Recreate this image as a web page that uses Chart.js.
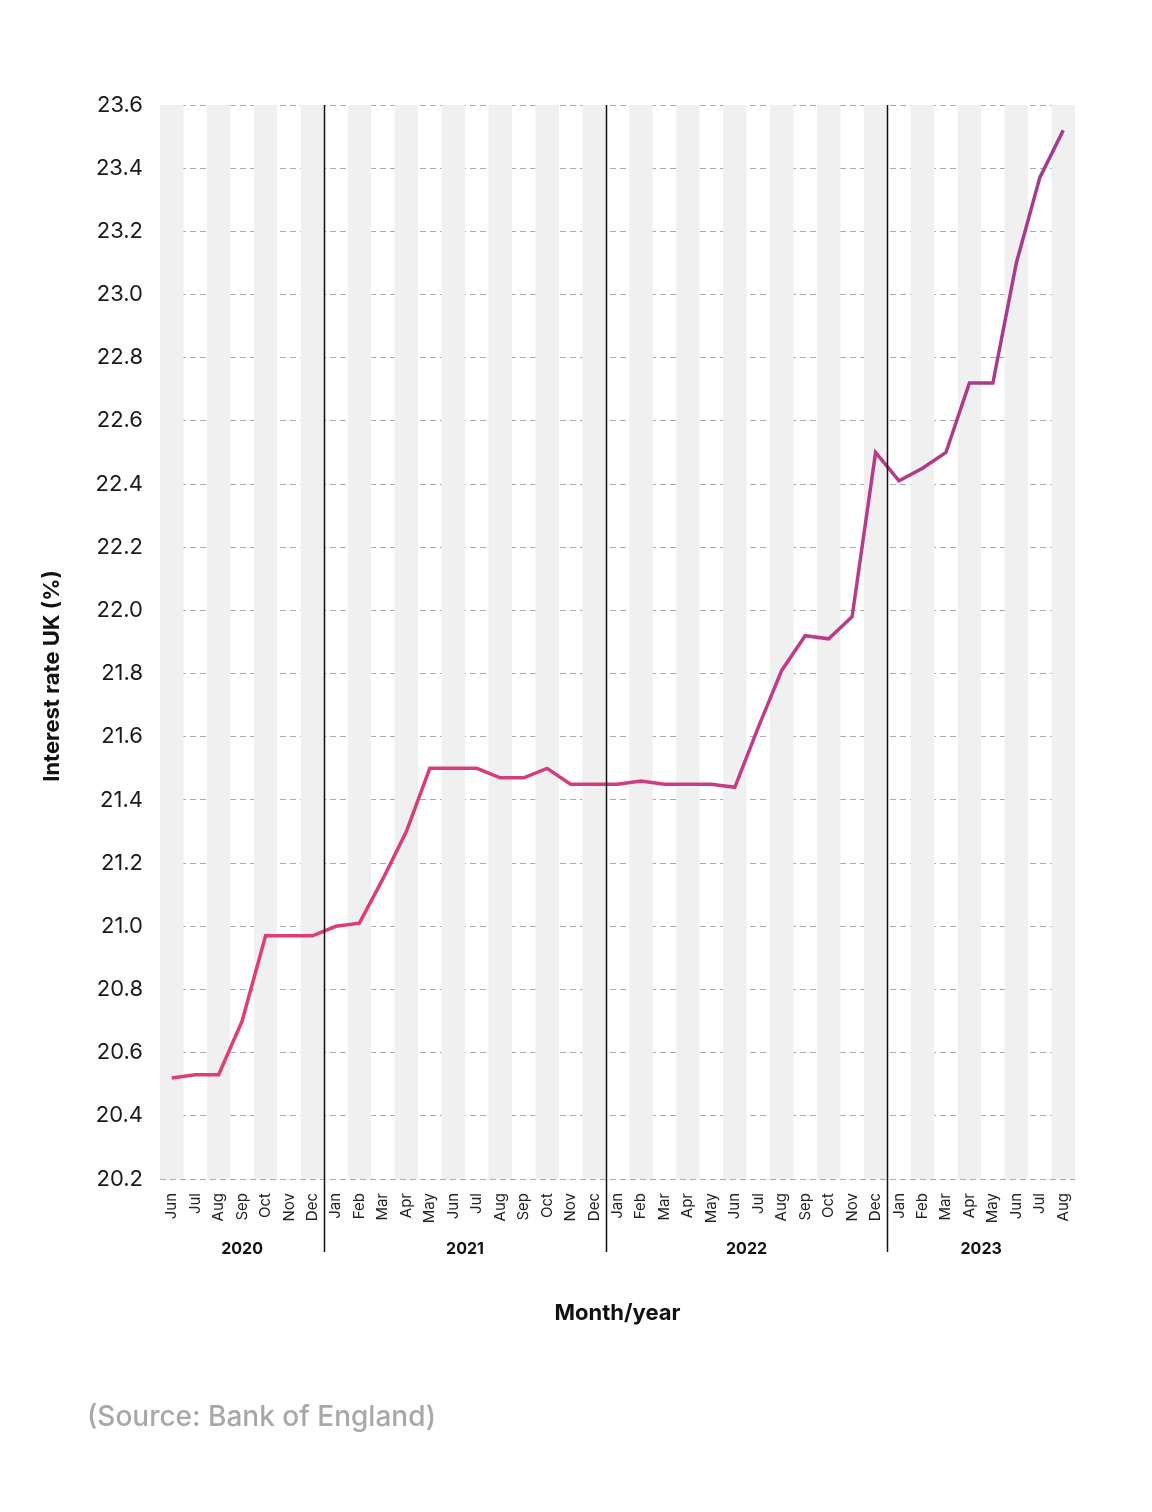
<!DOCTYPE html>
<html>
<head>
<meta charset="utf-8">
<script src="https://cdn.jsdelivr.net/npm/chart.js@4/dist/chart.umd.min.js"></script>
<style>
  body { margin: 0; background: #fff; }
  #wrap { position: relative; width: 1152px; height: 1512px; }
</style>
</head>
<body>
<div id="wrap"><canvas id="rateChart"></canvas></div>
<script>
const months = ['Jun','Jul','Aug','Sep','Oct','Nov','Dec',
  'Jan','Feb','Mar','Apr','May','Jun','Jul','Aug','Sep','Oct','Nov','Dec',
  'Jan','Feb','Mar','Apr','May','Jun','Jul','Aug','Sep','Oct','Nov','Dec',
  'Jan','Feb','Mar','Apr','May','Jun','Jul','Aug'];
const years = ['2020', '2021', '2022', '2023'];
const yearStart = [0, 7, 19, 31];
const yearEnd = [6, 18, 30, 38];
const rates = [20.52, 20.53, 20.53, 20.70, 20.97, 20.97, 20.97,
  21.00, 21.01, 21.15, 21.30, 21.50, 21.50, 21.50, 21.47, 21.47, 21.50, 21.45, 21.45,
  21.45, 21.46, 21.45, 21.45, 21.45, 21.44, 21.63, 21.81, 21.92, 21.91, 21.98, 22.50,
  22.41, 22.45, 22.50, 22.72, 22.72, 23.10, 23.37, 23.52];

const FONT = 'Inter, "Noto Sans", sans-serif';

const decor = {
  id: 'decor',
  beforeDatasetsDraw(chart) {
    const { ctx, chartArea: a, scales: { x } } = chart;
    const w = x.getPixelForValue(1) - x.getPixelForValue(0);
    ctx.save();
    ctx.fillStyle = '#f0f0f0';
    months.forEach((m, i) => {
      if (i % 2 === 0) {
        const cx = x.getPixelForValue(i);
        ctx.fillRect(cx - w / 2, a.top, w, a.bottom - a.top);
      }
    });
    ctx.restore();
  },
  afterDraw(chart) {
    const { ctx, chartArea: a, scales: { x } } = chart;
    const w = x.getPixelForValue(1) - x.getPixelForValue(0);
    ctx.save();
    // year dividers
    ctx.strokeStyle = '#111';
    ctx.lineWidth = 1.5;
    yearStart.slice(1).forEach(s => {
      const px = Math.round(x.getPixelForValue(s) - w / 2) + 0.5;
      ctx.beginPath();
      ctx.moveTo(px, a.top);
      ctx.lineTo(px, 1252);
      ctx.stroke();
    });
    // year labels
    ctx.fillStyle = '#111';
    ctx.font = 'bold 16px ' + FONT;
    ctx.textAlign = 'center';
    ctx.textBaseline = 'middle';
    years.forEach((y, i) => {
      const mid = (x.getPixelForValue(yearStart[i]) + x.getPixelForValue(yearEnd[i])) / 2;
      ctx.fillText(y, mid, 1249);
    });
    // axis titles
    ctx.font = 'bold 22px ' + FONT;
    ctx.fillText('Month/year', (a.left + a.right) / 2, 1313);
    ctx.save();
    ctx.translate(52, 676);
    ctx.rotate(-Math.PI / 2);
    ctx.fillText('Interest rate UK (%)', 0, 0);
    ctx.restore();
    // source
    ctx.fillStyle = '#a8a8a8';
    ctx.font = '500 28px ' + FONT;
    ctx.textAlign = 'left';
    ctx.fillText('(Source: Bank of England)', 87, 1418);
    ctx.restore();
  }
};

function lineGradient(context) {
  const { ctx, chartArea } = context.chart;
  if (!chartArea) return '#d63c7e';
  const g = ctx.createLinearGradient(chartArea.left, 0, chartArea.right, 0);
  g.addColorStop(0, '#e33c76');
  g.addColorStop(0.5, '#d23c80');
  g.addColorStop(1, '#a03a8f');
  return g;
}

new Chart(document.getElementById('rateChart'), {
  type: 'line',
  data: {
    labels: months,
    datasets: [{
      data: rates,
      borderColor: lineGradient,
      borderWidth: 3.5,
      pointRadius: 0,
      tension: 0,
      fill: false
    }]
  },
  options: {
    responsive: true,
    maintainAspectRatio: false,
    animation: false,
    layout: { padding: { top: 105, right: 77, left: 0, bottom: 0 } },
    plugins: { legend: { display: false }, tooltip: { enabled: false } },
    scales: {
      x: {
        offset: true,
        grid: { display: false, offset: true },
        border: { display: false },
        ticks: {
          autoSkip: false, minRotation: 90, maxRotation: 90, padding: 6,
          color: '#222', font: { family: FONT, size: 15 }
        },
        afterFit(s) { s.height = 333; }
      },
      y: {
        min: 20.2, max: 23.6,
        border: { display: false, dash: [6, 4] },
        grid: { color: '#a9a9a9', lineWidth: 1, drawTicks: false },
        ticks: {
          stepSize: 0.2, padding: 17, color: '#1a1a1a',
          font: { family: FONT, size: 22 },
          callback: v => v.toFixed(1)
        },
        afterFit(s) { s.width = 160; }
      }
    }
  },
  plugins: [decor]
});
</script>
</body>
</html>
